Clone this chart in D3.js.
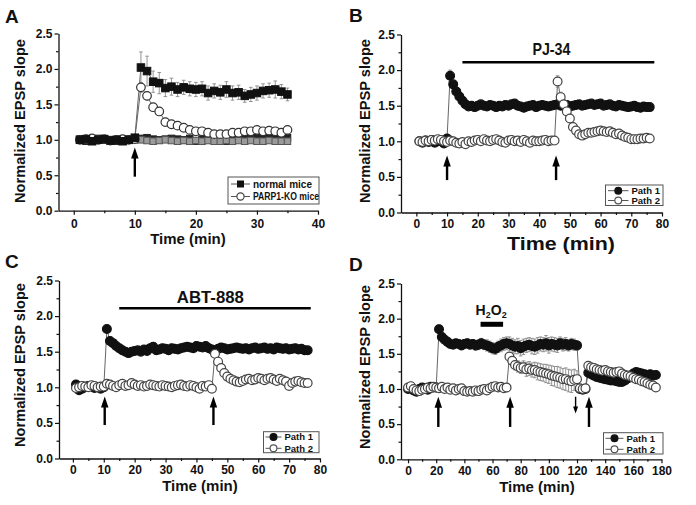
<!DOCTYPE html>
<html><head><meta charset="utf-8">
<script src="https://cdn.jsdelivr.net/npm/d3@7"></script>
<style>
body{margin:0;background:#fff}
svg{display:block}
text{font-family:"Liberation Sans",Arial,Helvetica,sans-serif;fill:#111}
</style>
</head><body>
<svg id="chart" width="696" height="505"></svg>
<script>
// ---------------- DATA ----------------
const yTicks = [0, 0.5, 1.0, 1.5, 2.0, 2.5];
const yMinor = [0.25, 0.75, 1.25, 1.75, 2.25];
const xTicksA = [0, 10, 20, 30, 40];
const xMinorA = [5, 15, 25, 35];
const xTicks80 = [0, 10, 20, 30, 40, 50, 60, 70, 80];
const xMinor80 = [5, 15, 25, 35, 45, 55, 65, 75];
const xTicksD = [0, 20, 40, 60, 80, 100, 120, 140, 160, 180];
const xMinorD = [10, 30, 50, 70, 90, 110, 130, 150, 170];

// Panel A
const tA = [1,2,3,4,5,6,7,8,9,10,11,12,13,14,15,16,17,18,19,20,21,22,23,24,25,26,27,28,29,30,31,32,33,34,35];
const normalA = [1.00,1.01,0.98,1.00,1.01,0.99,1.00,0.98,1.00,1.03, 2.02,1.97,1.82,1.80,1.73,1.75,1.71,1.74,1.72,1.71, 1.72,1.66,1.69,1.67,1.71,1.66,1.67,1.62,1.64,1.66, 1.69,1.70,1.71,1.68,1.64];
const normalErrA = [0.02,0.02,0.02,0.02,0.02,0.02,0.02,0.02,0.02,0.02, 0.22,0.21,0.15,0.15,0.12,0.12,0.10,0.10,0.10,0.10, 0.10,0.10,0.10,0.10,0.11,0.10,0.10,0.09,0.10,0.10, 0.10,0.10,0.12,0.10,0.09];
const koA = [1.00,1.01,1.02,1.00,1.01,0.99,1.00,1.01,1.00,1.01, 1.74,1.62,1.46,1.40,1.25,1.22,1.20,1.17,1.14,1.12, 1.12,1.10,1.08,1.08,1.08,1.10,1.10,1.12,1.12,1.14, 1.12,1.13,1.12,1.10,1.14];
const koErrA = [0.02,0.02,0.02,0.02,0.02,0.02,0.02,0.02,0.02,0.02, 0.07,0.06,0.05,0.05,0.05,0.04,0.04,0.04,0.04,0.04, 0.04,0.04,0.04,0.04,0.04,0.04,0.04,0.04,0.04,0.04, 0.04,0.04,0.04,0.04,0.04];
const ctrlNormalA = [1.00,0.98,1.00,1.02,1.00,0.99,0.98,1.01,1.00,1.02, 1.02,1.03,1.01,1.00,1.01,1.02,1.01,1.00,1.02,0.98, 1.01,1.02,1.00,1.01,0.98,1.02,1.03,1.02,1.02,1.04, 1.04,1.03,1.04,1.03,1.03];
const ctrlKoA = [1.01,1.00,0.99,1.00,1.01,0.99,1.00,0.99,1.00,1.00, 1.00,0.99,0.98,0.99,1.00,0.99,0.98,0.99,0.98,0.99, 0.98,0.99,0.98,0.98,0.99,0.98,0.99,0.98,0.99,0.98, 0.98,0.99,0.98,0.98,0.98];

// Panels B and C share the time grid
const t76 = [1,2,3,4,5,6,7,8,9,10,11,12,13,14,15,16,17,18,19,20,21,22,23,24,25,26,27,28,29,30,31,32,33,34,35,36,37,38,39,40,41,42,43,44,45,46,47,48,49,50,51,52,53,54,55,56,57,58,59,60,61,62,63,64,65,66,67,68,69,70,71,72,73,74,75,76];
const path1B = [1.00,0.98,1.01,0.99,1.02,0.98,1.00,1.01,0.97,1.04, 1.92,1.80,1.70,1.63,1.57,1.52,1.49,1.50,1.48,1.50, 1.52,1.50,1.49,1.51,1.50,1.48,1.50,1.49,1.51,1.50, 1.52,1.53,1.50,1.49,1.47,1.49,1.50,1.51,1.48,1.50, 1.51,1.50,1.49,1.50,1.51,1.52,1.50,1.50,1.51,1.49, 1.50,1.51,1.52,1.50,1.51,1.52,1.53,1.51,1.52,1.53, 1.50,1.51,1.52,1.50,1.49,1.51,1.50,1.49,1.48,1.49, 1.50,1.48,1.47,1.49,1.48,1.48];
const path2B = [1.00,0.99,1.01,1.00,1.02,1.01,1.03,1.02,1.00,0.99, 1.01,1.00,0.98,0.97,0.99,0.96,1.00,0.99,1.01,1.02, 1.00,1.03,1.01,1.00,1.02,1.03,1.01,0.99,0.98,1.01, 1.02,1.00,1.01,0.99,1.02,1.00,0.98,1.01,1.00,1.00, 1.01,1.02,1.00,1.01,1.01, 1.84,1.62,1.52,1.42,1.32,1.20,1.15,1.10,1.08,1.10, 1.12,1.12,1.13,1.14,1.15,1.14,1.13,1.14,1.12,1.10, 1.11,1.08,1.06,1.05,1.03,1.03,1.03,1.04,1.04,1.05,1.04];
const err1B = [0.01,0.01,0.01,0.01,0.01,0.01,0.01,0.01,0.01,0.01, 0.08,0.03,0.02,0.02,0.02,0.02,0.02,0.02,0.02,0.02, 0.02,0.02,0.02,0.02,0.02,0.02,0.02,0.02,0.02,0.02, 0.02,0.02,0.02,0.02,0.02,0.02,0.02,0.02,0.02,0.02, 0.02,0.02,0.02,0.02,0.02,0.02,0.02,0.02,0.02,0.02, 0.02,0.02,0.02,0.02,0.02,0.02,0.02,0.02,0.02,0.03, 0.03,0.03,0.03,0.03,0.03,0.03,0.04,0.04,0.04,0.04, 0.05,0.05,0.05,0.05,0.04,0.04];
const err2B = [0.01,0.01,0.01,0.01,0.01,0.01,0.01,0.01,0.01,0.01, 0.01,0.01,0.01,0.01,0.01,0.01,0.01,0.01,0.01,0.01, 0.01,0.01,0.01,0.01,0.01,0.01,0.01,0.01,0.01,0.01, 0.01,0.01,0.01,0.01,0.01,0.01,0.01,0.01,0.01,0.01, 0.01,0.01,0.01,0.01,0.01, 0.08,0.07,0.05,0.05,0.04,0.04,0.04,0.03,0.03,0.03, 0.03,0.03,0.03,0.03,0.03,0.03,0.03,0.03,0.03,0.03, 0.03,0.03,0.03,0.02,0.02,0.02,0.02,0.02,0.02,0.02,0.02];

const path1C = [1.04,0.96,0.98,1.00,1.02,1.01,0.99,1.00,0.98,1.00, 1.82,1.65,1.62,1.58,1.55,1.52,1.50,1.48,1.50,1.51, 1.52,1.50,1.53,1.51,1.55,1.57,1.52,1.53,1.55,1.54, 1.52,1.55,1.54,1.53,1.55,1.56,1.57,1.56,1.55,1.58, 1.57,1.56,1.58,1.55,1.53,1.52,1.54,1.56,1.55,1.53, 1.54,1.55,1.56,1.55,1.54,1.55,1.53,1.55,1.56,1.54, 1.55,1.56,1.54,1.55,1.53,1.56,1.55,1.54,1.55,1.53, 1.54,1.55,1.53,1.54,1.52,1.52];
const path2C = [0.99,1.00,1.02,1.01,1.00,1.03,1.02,1.00,1.01,1.01, 1.05,1.04,1.02,1.00,1.03,1.05,1.02,1.03,1.06,1.04, 1.02,1.03,1.01,1.02,1.04,1.03,1.02,1.01,1.03,1.02, 1.01,1.00,1.02,1.03,1.04,1.02,1.01,1.03,1.02,1.00, 0.98,1.02,1.01,1.03,0.98, 1.47,1.36,1.27,1.20,1.15,1.12,1.10,1.08,1.07,1.09, 1.11,1.12,1.10,1.11,1.13,1.12,1.10,1.12,1.13,1.11, 1.09,1.12,1.10,1.08,1.02,1.06,1.08,1.09,1.07,1.06,1.06];
const err2C = [0.01,0.01,0.01,0.01,0.01,0.01,0.01,0.01,0.01,0.01, 0.01,0.01,0.01,0.01,0.01,0.01,0.01,0.01,0.01,0.01, 0.01,0.01,0.01,0.01,0.01,0.01,0.01,0.01,0.01,0.01, 0.01,0.01,0.01,0.01,0.01,0.01,0.01,0.01,0.01,0.01, 0.01,0.01,0.01,0.01,0.01, 0.05,0.05,0.05,0.04,0.04,0.03,0.03,0.03,0.03,0.03, 0.03,0.03,0.03,0.03,0.03,0.03,0.03,0.03,0.03,0.03, 0.03,0.03,0.03,0.03,0.03,0.03,0.03,0.03,0.03,0.03,0.03];

// Panel D
const tD = [0,2,4,6,8,10,12,14,16,18,20,22,24,26,28,30,32,34,36,38,40,42,44,46,48,50,52,54,56,58,60,62,64,66,68,70,72,74,76,78,80,82,84,86,88,90,92,94,96,98,100,102,104,106,108,110,112,114,116,118,120,122,124,126,128,130,132,134,136,138,140,142,144,146,148,150,152,154,156,158,160,162,164,166,168,170,172,174,176];
const path1D = [1.00,1.03,0.98,0.96,1.00,1.02,1.01,0.99,1.03,1.02,1.02,
  1.85,1.74,1.70,1.67,1.64,1.63,1.65,1.64,1.62,1.64,1.65,1.63,1.64,1.62,1.63,1.65,1.63,1.62,1.60,1.58,1.57,1.60,1.62,1.64,1.65,
  1.64,1.62,1.60,1.61,1.58,1.60,1.62,1.63,1.61,1.60,1.62,1.64,1.63,1.65,1.62,1.64,1.63,1.62,1.65,1.63,1.64,1.62,1.64,1.63,1.62,
  1.00,0.99,1.00,1.23,
  1.21,1.19,1.17,1.16,1.15,1.14,1.13,1.12,1.12,1.11,1.10,1.10,1.12,1.15,1.18,1.22,1.24,1.23,1.22,1.21,1.20,1.21,1.19,1.20];
const path2D = [1.02,1.04,1.00,0.98,0.97,0.99,1.00,1.02,1.01,1.03,1.02,
  1.01,1.03,1.00,1.02,0.99,1.01,0.98,1.00,1.01,0.97,0.96,0.97,0.96,0.98,0.97,0.99,1.00,0.98,1.01,1.03,1.04,1.02,1.03,1.01,1.02,
  1.46,1.40,1.34,1.32,1.30,1.31,1.28,1.29,1.27,1.27,1.25,1.24,1.23,1.22,1.21,1.19,1.18,1.17,1.16,1.14,1.14,1.12,1.11,1.13,1.14,
  1.01,1.00,1.01,1.33,
  1.31,1.30,1.28,1.27,1.26,1.27,1.25,1.24,1.23,1.24,1.25,1.22,1.20,1.19,1.18,1.16,1.14,1.13,1.11,1.10,1.08,1.06,1.05,1.02];
const err1D = [0.02,0.02,0.02,0.02,0.02,0.02,0.02,0.02,0.02,0.02,0.02,
  0.06,0.06,0.05,0.05,0.05,0.05,0.05,0.05,0.06,0.06,0.06,0.06,0.06,0.07,0.07,0.07,0.07,0.08,0.08,0.08,0.08,0.08,0.09,0.09,0.09,
  0.10,0.10,0.10,0.11,0.11,0.11,0.10,0.10,0.11,0.11,0.11,0.10,0.10,0.11,0.11,0.10,0.10,0.10,0.09,0.09,0.09,0.08,0.08,0.08,0.07,
  0.03,0.03,0.03,0.05,
  0.04,0.04,0.04,0.04,0.04,0.04,0.04,0.04,0.04,0.04,0.04,0.04,0.04,0.04,0.04,0.04,0.04,0.04,0.04,0.04,0.04,0.04,0.04,0.04];
const err2D = [0.02,0.02,0.02,0.02,0.02,0.02,0.02,0.02,0.02,0.02,0.02,
  0.02,0.02,0.02,0.02,0.02,0.02,0.02,0.02,0.02,0.02,0.02,0.02,0.02,0.02,0.02,0.02,0.02,0.02,0.02,0.02,0.02,0.02,0.02,0.02,0.02,
  0.06,0.06,0.07,0.08,0.08,0.09,0.10,0.10,0.10,0.11,0.12,0.12,0.12,0.13,0.13,0.14,0.14,0.15,0.15,0.15,0.16,0.16,0.16,0.15,0.12,
  0.03,0.03,0.03,0.05,
  0.04,0.04,0.04,0.04,0.04,0.04,0.04,0.04,0.04,0.04,0.04,0.04,0.04,0.04,0.04,0.04,0.04,0.04,0.04,0.04,0.04,0.04,0.04,0.04];

// annotations
const arrowsA = [10];
const arrowsB = [10, 45.5];
const arrowsC = [10.3, 45.5];
const arrowsD = [21.5, 72.5, 128.5];
const smallArrowsD = [119];
const legendLabelsA = ["normal mice", "PARP1-KO mice"];
const legendLabelsPath = ["Path 1", "Path 2"];

// ---------------- DRAWING ----------------
const svg = d3.select("#chart");

const S = {
  blackSq:  {shape:"square", fill:"#111", stroke:"#111", size:7.5},
  ctrlSq:   {shape:"square", fill:"#222", stroke:"#222", size:6.5},
  graySq:   {shape:"square", fill:"#9a9a9a", stroke:"#555", size:6.5},
  openCircA:{shape:"circle", fill:"#fff", stroke:"#333", r:4.3},
  filled:   {shape:"circle", fill:"#111", stroke:"#111", r:4.4},
  open:     {shape:"circle", fill:"#fff", stroke:"#444", r:4.4}
};

const panels = [
  { letter:"A", letterPos:[5,23], xDom:[-2.5,40], xRng:[58.5,318], yRng:[210.7,33.5],
    xTicks:xTicksA, xMinor:xMinorA, tickPad:5,
    ylabel:[25,121], xlabel:[188,244,15,null],
    series:[
      {x:tA, y:ctrlNormalA, st:S.ctrlSq, line:false},
      {x:tA, y:ctrlKoA, st:S.graySq, line:false},
      {x:tA, y:koA, err:koErrA, st:S.openCircA, line:true},
      {x:tA, y:normalA, err:normalErrA, st:S.blackSq, line:true}
    ],
    arrows:arrowsA, arrowY:[0.48,0.89],
    legend:{box:[228,177,91,27], rows:[184,196.5], lx:231, tx:253, labels:legendLabelsA,
            styles:[{shape:"square",fill:"#111",stroke:"#111",size:6},{shape:"circle",fill:"#fff",stroke:"#444",r:3.6}],
            fs:10, lens:[59,66]}
  },
  { letter:"B", letterPos:[349,22], xDom:[-5,80], xRng:[401,662], yRng:[212.5,34.5],
    xTicks:xTicks80, xMinor:xMinor80, tickPad:3,
    ylabel:[370,121], xlabel:[561,250,18,108],
    series:[
      {x:t76, y:path1B, err:err1B, st:S.filled, line:true},
      {x:t76, y:path2B, err:err2B, st:S.open, line:true}
    ],
    arrows:arrowsB, arrowY:[0.455,0.80],
    bar:{x0:15, x1:77.5, y:2.11, w:2.6, label:"PJ-34", lx:44, ly:2.21, fs:16.5, len:38, bold:true},
    legend:{box:[605.5,185,57.5,20.5], rows:[190.7,200.5], lx:608, tx:631.5, labels:legendLabelsPath,
            styles:[{shape:"circle",fill:"#111",stroke:"#111",r:3.4},{shape:"circle",fill:"#fff",stroke:"#555",r:3.4}],
            fs:9.5, lens:[null,null]}
  },
  { letter:"C", letterPos:[5,268], xDom:[-4.5,80], xRng:[59,320], yRng:[458.5,280.5],
    xTicks:xTicks80, xMinor:xMinor80, tickPad:3,
    ylabel:[25,365], xlabel:[200,491,15,null],
    series:[
      {x:t76, y:path1C, st:S.filled, line:true},
      {x:t76, y:path2C, err:err2C, st:S.open, line:true}
    ],
    arrows:arrowsC, arrowY:[0.47,0.87],
    bar:{x0:15, x1:77, y:2.11, w:2.6, label:"ABT-888", lx:44.5, ly:2.18, fs:16.5, len:67, bold:true},
    legend:{box:[263.5,431.7,55.5,21], rows:[437,448.3], lx:265.5, tx:284.5, labels:legendLabelsPath,
            styles:[{shape:"circle",fill:"#111",stroke:"#111",r:3.4},{shape:"circle",fill:"#fff",stroke:"#555",r:3.4}],
            fs:9.5, lens:[null,null]}
  },
  { letter:"D", letterPos:[349,271], xDom:[-5,180], xRng:[401,661.5], yRng:[459.3,283.5],
    xTicks:xTicksD, xMinor:xMinorD, tickPad:3,
    ylabel:[370,367], xlabel:[537,492,15,null],
    series:[
      {x:tD, y:path1D, err:err1D, st:S.filled, line:true},
      {x:tD, y:path2D, err:err2D, st:S.open, line:true}
    ],
    arrows:arrowsD, arrowY:[0.46,0.89], smallArrows:smallArrowsD, smallArrowY:[0.89,0.65],
    bar:{x0:51.5, x1:67.5, y:1.92, w:5, label:"H2O2", lx:59, ly:2.05, fs:14, len:null, sub:true, bold:true},
    legend:{box:[603.5,432.7,59.5,21.3], rows:[438.3,449.3], lx:605.5, tx:626.5, labels:legendLabelsPath,
            styles:[{shape:"circle",fill:"#111",stroke:"#111",r:3.4},{shape:"circle",fill:"#fff",stroke:"#555",r:3.4}],
            fs:9.5, lens:[null,null]}
  }
];

function drawMarker(g, st, cx, cy) {
  if (st.shape === "square") {
    g.append("rect").attr("x", cx - st.size/2).attr("y", cy - st.size/2)
      .attr("width", st.size).attr("height", st.size)
      .attr("fill", st.fill).attr("stroke", st.stroke).attr("stroke-width", 1);
  } else {
    g.append("circle").attr("cx", cx).attr("cy", cy).attr("r", st.r)
      .attr("fill", st.fill).attr("stroke", st.stroke).attr("stroke-width", 1.2);
  }
}

function drawArrow(g, px, yBase, yTip, w, headW, headL) {
  const dir = yTip < yBase ? 1 : -1; // 1 = pointing up
  g.append("line").attr("x1", px).attr("x2", px)
    .attr("y1", yBase).attr("y2", yTip + dir*headL*0.8)
    .attr("stroke", "#000").attr("stroke-width", w);
  g.append("path")
    .attr("d", `M${px},${yTip} L${px-headW/2},${yTip+dir*headL} L${px+headW/2},${yTip+dir*headL} Z`)
    .attr("fill", "#000");
}

panels.forEach(p => {
  const g = svg.append("g");
  const x = d3.scaleLinear().domain(p.xDom).range(p.xRng);
  const y = d3.scaleLinear().domain([0, 2.5]).range(p.yRng);

  // axes
  const ya = g.append("g").attr("transform", `translate(${p.xRng[0]},0)`)
    .call(d3.axisLeft(y).tickValues(yTicks).tickFormat(d3.format(".1f")).tickSize(4).tickPadding(2).tickSizeOuter(0));
  const yb = g.append("g").attr("transform", `translate(${p.xRng[0]},0)`)
    .call(d3.axisLeft(y).tickValues(yMinor).tickFormat("").tickSize(2.5).tickSizeOuter(0));
  const xa = g.append("g").attr("transform", `translate(0,${p.yRng[0]})`)
    .call(d3.axisBottom(x).tickValues(p.xTicks).tickFormat(d3.format("d")).tickSize(4).tickPadding(p.tickPad).tickSizeOuter(0));
  const xb = g.append("g").attr("transform", `translate(0,${p.yRng[0]})`)
    .call(d3.axisBottom(x).tickValues(p.xMinor).tickFormat("").tickSize(2.5).tickSizeOuter(0));
  [yb, xb].forEach(a => a.select(".domain").remove());
  [ya, yb, xa, xb].forEach(a => {
    a.selectAll(".domain").attr("stroke", "#111").attr("stroke-width", 1.3);
    a.selectAll(".tick line").attr("stroke", "#111").attr("stroke-width", 1.2);
    a.selectAll(".tick text").attr("font-family", '"Liberation Sans",Arial,sans-serif')
      .attr("font-size", 12).attr("font-weight", "bold").attr("fill", "#111");
  });

  // series lines
  p.series.forEach(s => {
    if (!s.line) return;
    const pts = s.x.map((d, i) => [x(d), y(s.y[i])]);
    g.append("path").attr("d", d3.line()(pts)).attr("fill", "none")
      .attr("stroke", "#666").attr("stroke-width", 1);
  });
  // error bars
  p.series.forEach(s => {
    if (!s.err) return;
    s.x.forEach((d, i) => {
      const e = s.err[i]; if (e < 0.015) return;
      const px = x(d), y1 = y(s.y[i] - e), y2 = y(s.y[i] + e);
      g.append("line").attr("x1", px).attr("x2", px).attr("y1", y1).attr("y2", y2)
        .attr("stroke", "#888").attr("stroke-width", 0.9);
      [y1, y2].forEach(yy => g.append("line").attr("x1", px-1.8).attr("x2", px+1.8)
        .attr("y1", yy).attr("y2", yy).attr("stroke", "#888").attr("stroke-width", 0.9));
    });
  });
  // markers
  p.series.forEach(s => {
    s.x.forEach((d, i) => drawMarker(g, s.st, x(d), y(s.y[i])));
  });

  // arrows
  p.arrows.forEach(a => drawArrow(g, x(a), y(p.arrowY[0]), y(p.arrowY[1]), 2.4, 7.5, 11));
  if (p.smallArrows) p.smallArrows.forEach(a => drawArrow(g, x(a), y(p.smallArrowY[0]), y(p.smallArrowY[1]), 1.4, 5, 7));

  // treatment bar
  if (p.bar) {
    const b = p.bar;
    g.append("line").attr("x1", x(b.x0)).attr("x2", x(b.x1)).attr("y1", y(b.y)).attr("y2", y(b.y))
      .attr("stroke", "#000").attr("stroke-width", b.w);
    const t = g.append("text").attr("x", x(b.lx)).attr("y", y(b.ly)).attr("text-anchor", "middle")
      .attr("font-size", b.fs).attr("font-weight", b.bold ? "bold" : "normal");
    if (b.sub) {
      t.append("tspan").text("H");
      t.append("tspan").attr("font-size", 9).attr("dy", 3).text("2");
      t.append("tspan").attr("dy", -3).text("O");
      t.append("tspan").attr("font-size", 9).attr("dy", 3).text("2");
    } else {
      t.text(b.label);
      if (b.len) t.attr("textLength", b.len).attr("lengthAdjust", "spacingAndGlyphs");
    }
  }

  // legend
  const L = p.legend;
  g.append("rect").attr("x", L.box[0]).attr("y", L.box[1]).attr("width", L.box[2]).attr("height", L.box[3])
    .attr("fill", "#fff").attr("stroke", "#555").attr("stroke-width", 1);
  L.labels.forEach((lab, i) => {
    const ry = L.rows[i];
    const x0 = L.lx, x1 = L.tx - 3;
    g.append("line").attr("x1", x0).attr("x2", x1).attr("y1", ry).attr("y2", ry)
      .attr("stroke", "#555").attr("stroke-width", 1);
    drawMarker(g, L.styles[i], (x0 + x1) / 2, ry);
    const t = g.append("text").attr("x", L.tx).attr("y", ry + L.fs*0.36)
      .attr("font-size", L.fs).attr("font-weight", "bold").text(lab);
    if (L.lens[i]) t.attr("textLength", L.lens[i]).attr("lengthAdjust", "spacingAndGlyphs");
  });

  // axis titles
  svg.append("text").attr("transform", `translate(${p.ylabel[0]},${p.ylabel[1]}) rotate(-90)`)
    .attr("text-anchor", "middle").attr("font-size", 14.5).attr("font-weight", "bold")
    .attr("textLength", 164).attr("lengthAdjust", "spacingAndGlyphs").text("Normalized EPSP slope");
  const xt = svg.append("text").attr("x", p.xlabel[0]).attr("y", p.xlabel[1]).attr("text-anchor", "middle")
    .attr("font-size", p.xlabel[2]).attr("font-weight", "bold").text("Time (min)");
  if (p.xlabel[3]) xt.attr("textLength", p.xlabel[3]).attr("lengthAdjust", "spacingAndGlyphs");

  // panel letter
  svg.append("text").attr("x", p.letterPos[0]).attr("y", p.letterPos[1])
    .attr("font-size", 19).attr("font-weight", "bold").text(p.letter);
});
</script>
</body></html>
